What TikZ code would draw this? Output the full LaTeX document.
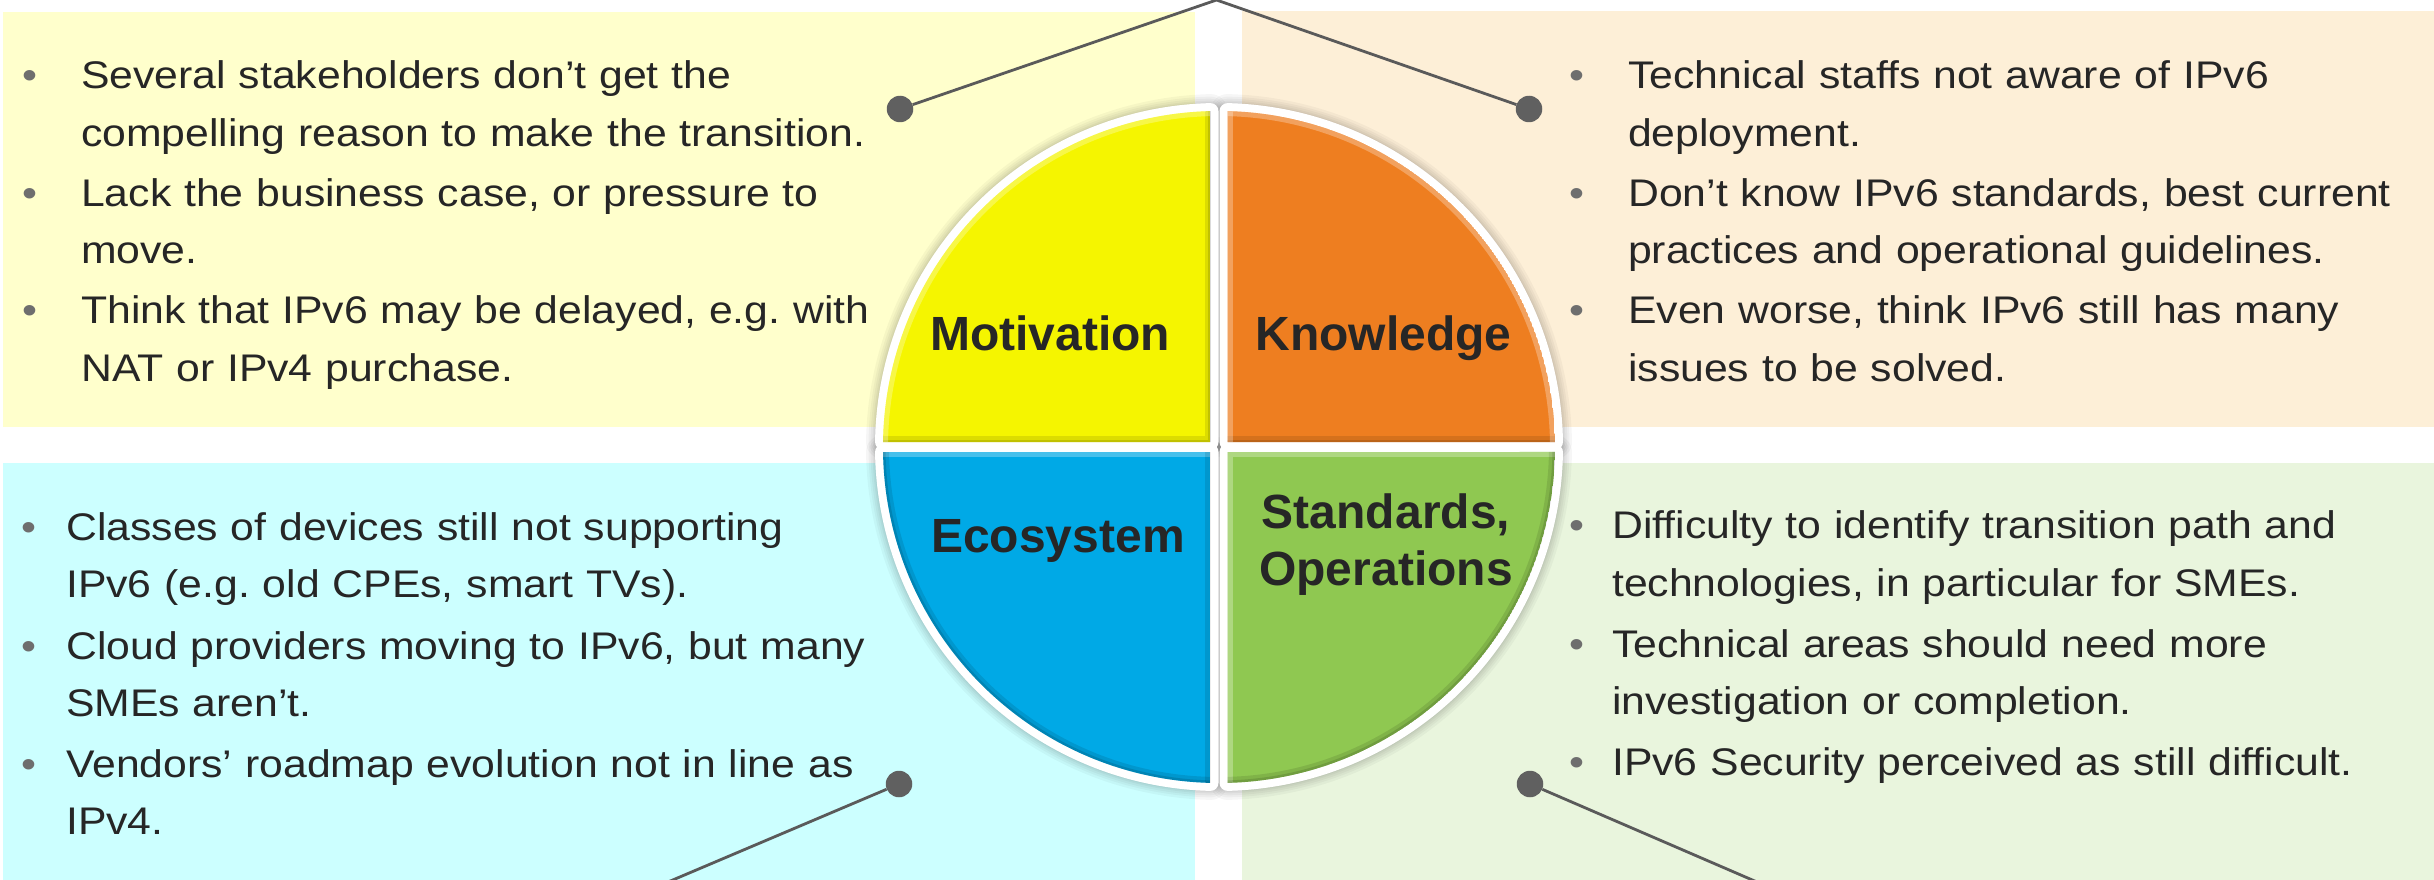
\documentclass[tikz,border=0pt]{standalone}
\usepackage{fontspec}
\setmainfont{Liberation Sans}
\newfontfamily\bodyfont[FakeStretch=1.11]{Liberation Sans}
\definecolor{pYellow}{HTML}{FFFFCC}
\definecolor{pOrange}{HTML}{FDEFD7}
\definecolor{pCyan}{HTML}{CCFFFF}
\definecolor{pGreen}{HTML}{E9F5DD}
\definecolor{qYellow}{HTML}{F5F500}
\definecolor{qOrange}{HTML}{EE7E20}
\definecolor{qBlue}{HTML}{00A9E6}
\definecolor{qGreen}{HTML}{8FC851}
\definecolor{txt}{HTML}{262626}
\definecolor{bulgray}{HTML}{6E6E6E}
\definecolor{conngray}{HTML}{5A5A5A}
\definecolor{dotgray}{HTML}{606060}
\newcommand{\bul}[1]{\llap{\makebox[0pt][c]{\textcolor{bulgray}{•}}\hspace{#1}}}
\def\qTL{(1210.5,-442) -- (1210.5,-111.11) arc[start angle=91.45, end angle=179.15, radius=336] -- cycle}
\def\qTR{(1227.5,-442) -- (1554.96,-442) arc[start angle=0.85, end angle=88.55, radius=336] -- cycle}
\def\qBL{(1210.5,-452) -- (883.04,-452) arc[start angle=180.85, end angle=268.55, radius=336] -- cycle}
\def\qBR{(1227.5,-452) -- (1227.5,-782.89) arc[start angle=271.45, end angle=359.15, radius=336] -- cycle}
\begin{document}
\frenchspacing
\begin{tikzpicture}[x=1pt,y=1pt,
  item/.style={anchor=base west, inner sep=0pt, text width=850pt, align=left, text=txt,
    font=\bodyfont\fontsize{38.5}{57.5}\selectfont\frenchspacing},
  qlabel/.style={anchor=base, inner sep=0pt, text=txt, font=\bfseries\fontsize{48}{57}\selectfont},
  dot/.style={circle, fill=dotgray, minimum size=26.5pt, inner sep=0pt},
  conn/.style={draw=conngray, line width=2.8pt},
  shade1/.style={black, opacity=0.10, line width=12pt},
  shade2/.style={black, opacity=0.12, line width=5pt},
  lite/.style={white, opacity=0.28, line width=10pt},
  whiteedge/.style={draw=white, fill=white, line width=16pt, line join=round},
  shadow/.style={black, opacity=0.035, line width=#1, line join=round}]
\useasboundingbox (0,0) rectangle (2434,-880);
\fill[white] (0,0) rectangle (2434,-880);
% panels
\fill[pYellow] (3,-12) rectangle (1195,-427);
\fill[pOrange] (1242,-11) rectangle (2434,-427);
\fill[pCyan] (3,-463) rectangle (1195,-880);
\fill[pGreen] (1242,-463) rectangle (2434,-880);
% shadows
\foreach \w in {34,29,25,21,18}{
  \draw[shadow=\w pt] \qTL; \draw[shadow=\w pt] \qTR;
  \draw[shadow=\w pt] \qBL; \draw[shadow=\w pt] \qBR;
}
% white borders
\draw[whiteedge] \qTL; \draw[whiteedge] \qTR;
\draw[whiteedge] \qBL; \draw[whiteedge] \qBR;
% yellow
\begin{scope}
  \clip \qTL;
  \fill[qYellow] \qTL;
  \draw[shade1] (1210.5,-100) -- (1210.5,-442) -- (870,-442);
  \draw[shade2] (1210.5,-100) -- (1210.5,-442) -- (870,-442);
  \draw[lite] (1210.5,-111.11) arc[start angle=91.45, end angle=179.15, radius=336];
\end{scope}
% orange
\begin{scope}
  \clip \qTR;
  \fill[qOrange] \qTR;
  \draw[shade1] (1220,-442) -- (1570,-442);
  \draw[shade2] (1220,-442) -- (1570,-442);
  \draw[lite] (1227.5,-442) -- (1227.5,-100);
  \draw[lite] (1554.96,-442) arc[start angle=0.85, end angle=88.55, radius=336];
\end{scope}
% blue
\begin{scope}
  \clip \qBL;
  \fill[qBlue] \qBL;
  \draw[lite] (1220,-452) -- (870,-452);
  \draw[shade1] (1210.5,-452) -- (1210.5,-790);
  \draw[shade1] (883.04,-452) arc[start angle=180.85, end angle=268.55, radius=336];
  \draw[shade2] (883.04,-452) arc[start angle=180.85, end angle=268.55, radius=336];
\end{scope}
% green
\begin{scope}
  \clip \qBR;
  \fill[qGreen] \qBR;
  \draw[lite] (1227.5,-790) -- (1227.5,-452) -- (1570,-452);
  \draw[shade1] (1227.5,-782.89) arc[start angle=271.45, end angle=359.15, radius=336];
  \draw[shade2] (1227.5,-782.89) arc[start angle=271.45, end angle=359.15, radius=336];
\end{scope}
% quadrant labels
\node[qlabel] (lmot) at (1050,-350) {Motivation};
\node[qlabel] (lknow) at (1383.5,-350) {Knowledge};
\node[qlabel] (leco) at (1058,-552) {Ecosystem};
\node[qlabel, text width=320pt, align=center] (lstd) at (1386,-528) {Standards,\\Operations};
% top-left text
\node[item] (tl1) at (81,-89) {\bul{51pt}Several stakeholders don’t get the\\compelling reason to make the transition.};
\node[item] (tl2) at (81,-206) {\bul{51pt}Lack the business case, or pressure to\\move.};
\node[item] (tl3) at (81,-323.5) {\bul{51pt}Think that IPv6 may be delayed, e.g. with\\NAT or IPv4 purchase.};
% top-right text
\node[item] (tr1) at (1628,-89) {\bul{51.5pt}Technical staffs not aware of IPv6\\deployment.};
\node[item] (tr2) at (1628,-206) {\bul{51.5pt}Don’t know IPv6 standards, best current\\practices and operational guidelines.};
\node[item] (tr3) at (1628,-323.5) {\bul{51.5pt}Even worse, think IPv6 still has many\\issues to be solved.};
% bottom-left text
\node[item] (bl1) at (66,-540) {\bul{37pt}Classes of devices still not supporting\\IPv6 (e.g. old CPEs, smart TVs).};
\node[item] (bl2) at (66,-659) {\bul{37pt}Cloud providers moving to IPv6, but many\\SMEs aren’t.};
\node[item] (bl3) at (66,-777) {\bul{37pt}Vendors’ roadmap evolution not in line as\\IPv4.};
% bottom-right text
\node[item] (br1) at (1612,-538.5) {\bul{35.5pt}Difficulty to identify transition path and\\technologies, in particular for SMEs.};
\node[item] (br2) at (1612,-657) {\bul{35.5pt}Technical areas should need more\\investigation or completion.};
\node[item] (br3) at (1612,-775) {\bul{35.5pt}IPv6 Security perceived as still difficult.};
% connectors
\node[dot] (dtl) at (900,-109) {};
\node[dot] (dtr) at (1529,-109) {};
\node[dot] (dbl) at (899,-784) {};
\node[dot] (dbr) at (1530,-784) {};
\coordinate (apex) at (1216.5,0);
\coordinate (blend) at (668,-882);
\coordinate (brend) at (1757,-882);
\draw[conn] (dtl) -- (apex) -- (dtr);
\draw[conn] (dbl) -- (blend);
\draw[conn] (dbr) -- (brend);
\end{tikzpicture}
\end{document}
